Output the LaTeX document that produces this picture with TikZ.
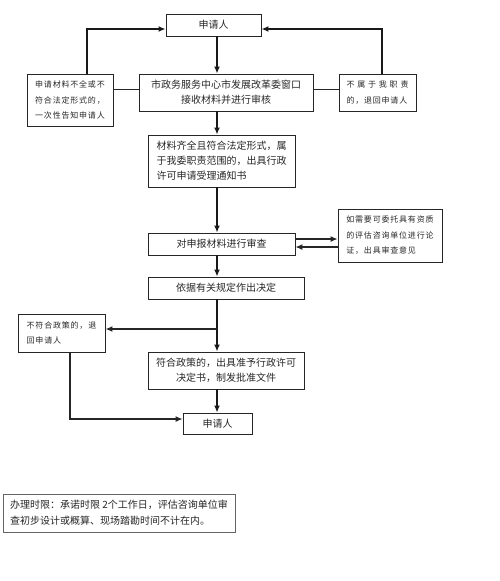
\documentclass[tikz,border=0pt]{standalone}
\usepackage{fontspec}
\setmainfont{Noto Sans CJK SC}
\newfontfamily\smallcjk[LetterSpace=10]{Noto Sans CJK SC}
\usetikzlibrary{arrows.meta}
\tikzset{
  box/.style={draw=black!85, line width=0.9pt, inner sep=0pt, align=center,
    font=\fontsize{10}{15}\selectfont, text=black!85},
  sidebox/.style={box, align=left, font=\smallcjk\fontsize{8}{15.5}\selectfont},
  notebox/.style={draw=black!60, line width=0.9pt, inner sep=0pt, align=left,
    font=\fontsize{10}{16}\selectfont, text=black!85},
  main/.style={line width=1.7pt, draw=black!90, -{Latex[length=7pt,width=6pt]}},
  thin/.style={line width=0.9pt, draw=black!85},
  thinarrow/.style={thin, line width=1.2pt, -{Latex[length=7pt,width=6pt]}},
}
\begin{document}
\begin{tikzpicture}[x=1pt,y=-1pt]
\useasboundingbox (0,0) rectangle (500,581);
% nodes
\node[box, minimum width=95pt, minimum height=22pt] (A) at (213.5,25) {申请人};
\node[sidebox, minimum width=86pt, minimum height=52pt] (B) at (70,100) {申请材料不全或不\\符合法定形式的，\\一次性告知申请人};
\node[box, minimum width=174pt, minimum height=37pt] (C) at (226,92.5) {市政务服务中心市发展改革委窗口\\接收材料并进行审核};
\node[sidebox, minimum width=77pt, minimum height=37pt] (D) at (377.5,92.5) {\makebox[62pt][l]{不\hfill 属\hfill 于\hfill 我\hfill 职\hfill 责}\\的，退回申请人};
\node[box, align=left, minimum width=147pt, minimum height=52pt] (E) at (221.5,161) {材料齐全且符合法定形式，属\\于我委职责范围的，出具行政\\许可申请受理通知书};
\node[box, minimum width=147pt, minimum height=22pt] (F) at (221.5,244) {对申报材料进行审查};
\node[sidebox, minimum width=104pt, minimum height=53pt] (G) at (390,235.5) {如需要可委托具有资质\\的评估咨询单位进行论\\证，出具审查意见};
\node[box, minimum width=156pt, minimum height=22pt] (H) at (226,288) {依据有关规定作出决定};
\node[sidebox, minimum width=87pt, minimum height=38pt] (I) at (61.5,333) {不符合政策的，退\\回申请人};
\node[box, minimum width=156pt, minimum height=37pt] (J) at (226,370.5) {符合政策的，出具准予行政许可\\决定书，制发批准文件};
\node[box, minimum width=69pt, minimum height=21pt] (K) at (217.5,423.5) {申请人};
\node[notebox, minimum width=232pt, minimum height=38pt] (N) at (119,513) {办理时限：承诺时限 2个工作日，评估咨询单位审\\查初步设计或概算、现场踏勘时间不计在内。};
% helper coordinates
\coordinate (ax) at (217,0);
\coordinate (lx) at (87,29);
\coordinate (rx) at (382,29);
\coordinate (cy) at (0,89);
\coordinate (g1) at (0,239);
\coordinate (g2) at (0,247);
\coordinate (jn) at (217,329);
\coordinate (ib) at (70,419);
% main vertical arrows
\draw[main] (A.south -| ax) -- (C.north -| ax);
\draw[main] (C.south -| ax) -- (E.north -| ax);
\draw[main] (E.south -| ax) -- (F.north -| ax);
\draw[main] (F.south -| ax) -- (H.north -| ax);
\draw[main] (H.south -| ax) -- (J.north -| ax);
\draw[main] (J.south -| ax) -- (K.north -| ax);
% return arrows to top applicant
\draw[main] (B.north -| lx) |- (A.west |- lx);
\draw[main] (D.north -| rx) |- (A.east |- rx);
% thin links
\draw[thin] (B.east |- cy) -- (C.west |- cy);
\draw[thin] (C.east |- cy) -- (D.west |- cy);
% review consultation
\draw[thinarrow] (F.east |- g1) -- (G.west |- g1);
\draw[thinarrow] (G.west |- g2) -- (F.east |- g2);
% reject branch
\draw[thinarrow, line width=1.4pt] (jn) -- (I.east |- jn);
\draw[thinarrow] (I.south -| ib) |- (K.west |- ib);
\end{tikzpicture}
\end{document}
